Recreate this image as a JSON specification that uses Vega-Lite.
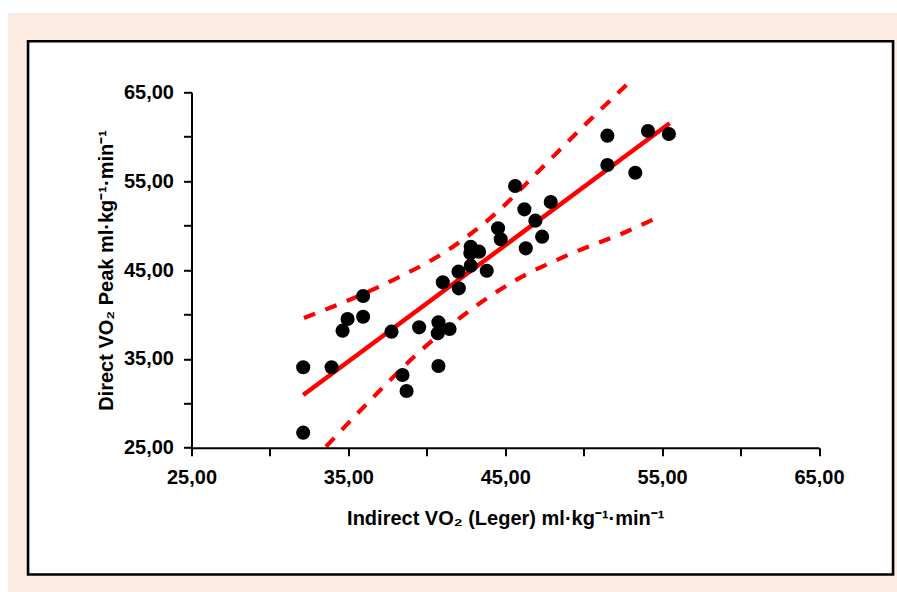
{
  "$schema": "https://vega.github.io/schema/vega-lite/v6.json",
  "width": 627.5,
  "height": 355.4,
  "autosize": {"type": "none"},
  "padding": {"left": 191.5, "top": 92.3, "right": 78, "bottom": 144.3},
  "background": "#ffffff",
  "config": {
    "view": {"stroke": null},
    "font": "Liberation Sans",
    "axis": {
      "grid": false,
      "domainColor": "#000000",
      "domainWidth": 2,
      "tickColor": "#000000",
      "tickWidth": 2,
      "tickSize": 8,
      "labelFont": "Liberation Sans",
      "labelFontSize": 20,
      "labelFontWeight": "bold",
      "labelColor": "#000000",
      "titleFont": "Liberation Sans",
      "titleFontSize": 20,
      "titleFontWeight": "bold",
      "titleColor": "#000000",
      "labelFlush": false,
      "labelOverlap": false
    }
  },
  "datasets": {
    "frame": [{"part": "frame"}],
    "points": [
      {"indirect": 32.12, "direct": 34.05},
      {"indirect": 33.93, "direct": 34.05},
      {"indirect": 32.12, "direct": 26.69},
      {"indirect": 34.63, "direct": 38.17},
      {"indirect": 34.95, "direct": 39.48},
      {"indirect": 35.94, "direct": 42.07},
      {"indirect": 35.94, "direct": 39.74},
      {"indirect": 37.75, "direct": 38.06},
      {"indirect": 38.45, "direct": 33.18},
      {"indirect": 38.71, "direct": 31.38},
      {"indirect": 39.51, "direct": 38.55},
      {"indirect": 40.74, "direct": 39.11},
      {"indirect": 40.70, "direct": 37.88},
      {"indirect": 41.45, "direct": 38.36},
      {"indirect": 40.74, "direct": 34.20},
      {"indirect": 41.02, "direct": 43.61},
      {"indirect": 42.04, "direct": 42.94},
      {"indirect": 42.02, "direct": 44.81},
      {"indirect": 42.80, "direct": 45.49},
      {"indirect": 42.78, "direct": 46.88},
      {"indirect": 42.80, "direct": 47.62},
      {"indirect": 43.33, "direct": 47.06},
      {"indirect": 43.82, "direct": 44.92},
      {"indirect": 44.54, "direct": 49.69},
      {"indirect": 44.71, "direct": 48.45},
      {"indirect": 45.63, "direct": 54.45},
      {"indirect": 46.22, "direct": 51.83},
      {"indirect": 46.31, "direct": 47.44},
      {"indirect": 46.92, "direct": 50.55},
      {"indirect": 47.35, "direct": 48.75},
      {"indirect": 47.90, "direct": 52.65},
      {"indirect": 51.51, "direct": 60.12},
      {"indirect": 51.51, "direct": 56.82},
      {"indirect": 53.29, "direct": 55.95},
      {"indirect": 54.10, "direct": 60.64},
      {"indirect": 55.43, "direct": 60.31}
    ],
    "fit": [
      {"indirect": 32.12, "direct": 30.93},
      {"indirect": 55.48, "direct": 61.51}
    ],
    "upper": [
      {"indirect": 32.17, "direct": 39.60},
      {"indirect": 37.85, "direct": 43.87},
      {"indirect": 41.36, "direct": 47.25},
      {"indirect": 44.44, "direct": 51.45},
      {"indirect": 47.20, "direct": 56.26},
      {"indirect": 49.96, "direct": 61.13},
      {"indirect": 52.72, "direct": 65.82}
    ],
    "lower": [
      {"indirect": 33.57, "direct": 25.11},
      {"indirect": 36.37, "direct": 30.29},
      {"indirect": 39.24, "direct": 35.32},
      {"indirect": 42.21, "direct": 39.74},
      {"indirect": 45.50, "direct": 43.68},
      {"indirect": 49.00, "direct": 46.69},
      {"indirect": 52.72, "direct": 49.31},
      {"indirect": 54.73, "direct": 50.93}
    ]
  },
  "layer": [
    {
      "data": {"name": "frame"},
      "mark": {"type": "rect", "fill": "#fdece2", "strokeWidth": 0},
      "encoding": {
        "x": {"datum": 13.3, "type": "quantitative"},
        "x2": {"datum": 72},
        "y": {"datum": 73.92, "type": "quantitative"},
        "y2": {"datum": 5}
      }
    },
    {
      "data": {"name": "frame"},
      "mark": {"type": "rect", "fill": "#ffffff", "stroke": "#000000", "strokeWidth": 2.6},
      "encoding": {
        "x": {"datum": 14.58, "type": "quantitative"},
        "x2": {"datum": 69.72},
        "y": {"datum": 70.74, "type": "quantitative"},
        "y2": {"datum": 10.73}
      }
    },
    {
      "data": {"name": "upper"},
      "mark": {"type": "line", "color": "#ff0000", "strokeWidth": 4.2, "strokeDash": [12, 11], "interpolate": "monotone"},
      "encoding": {
        "x": {"field": "indirect", "type": "quantitative"},
        "y": {"field": "direct", "type": "quantitative"}
      }
    },
    {
      "data": {"name": "lower"},
      "mark": {"type": "line", "color": "#ff0000", "strokeWidth": 4.2, "strokeDash": [12, 11], "interpolate": "monotone"},
      "encoding": {
        "x": {"field": "indirect", "type": "quantitative"},
        "y": {"field": "direct", "type": "quantitative"}
      }
    },
    {
      "data": {"name": "fit"},
      "mark": {"type": "line", "color": "#ff0000", "strokeWidth": 4.5},
      "encoding": {
        "x": {"field": "indirect", "type": "quantitative"},
        "y": {"field": "direct", "type": "quantitative"}
      }
    },
    {
      "data": {"name": "points"},
      "mark": {"type": "circle", "color": "#000000", "opacity": 1, "size": 200},
      "encoding": {
        "x": {
          "field": "indirect", "type": "quantitative",
          "scale": {"domain": [25, 65], "nice": false, "zero": false},
          "axis": {
            "zindex": 2,
            "title": "Indirect VO₂ (Leger) ml·kg⁻¹·min⁻¹",
            "values": [25, 30, 35, 40, 45, 50, 55, 60, 65],
            "labelExpr": "datum.value % 10 == 5 ? replace(format(datum.value, '.2f'), '.', ',') : ''",
            "labelPadding": 12,
            "titlePadding": 21
          }
        },
        "y": {
          "field": "direct", "type": "quantitative",
          "scale": {"domain": [25, 65], "nice": false, "zero": false},
          "axis": {
            "zindex": 2,
            "title": "Direct VO₂ Peak ml·kg⁻¹·min⁻¹",
            "values": [25, 30, 35, 40, 45, 50, 55, 60, 65],
            "labelExpr": "datum.value % 10 == 5 ? replace(format(datum.value, '.2f'), '.', ',') : ''",
            "labelPadding": 10,
            "titlePadding": 7
          }
        }
      }
    }
  ]
}
